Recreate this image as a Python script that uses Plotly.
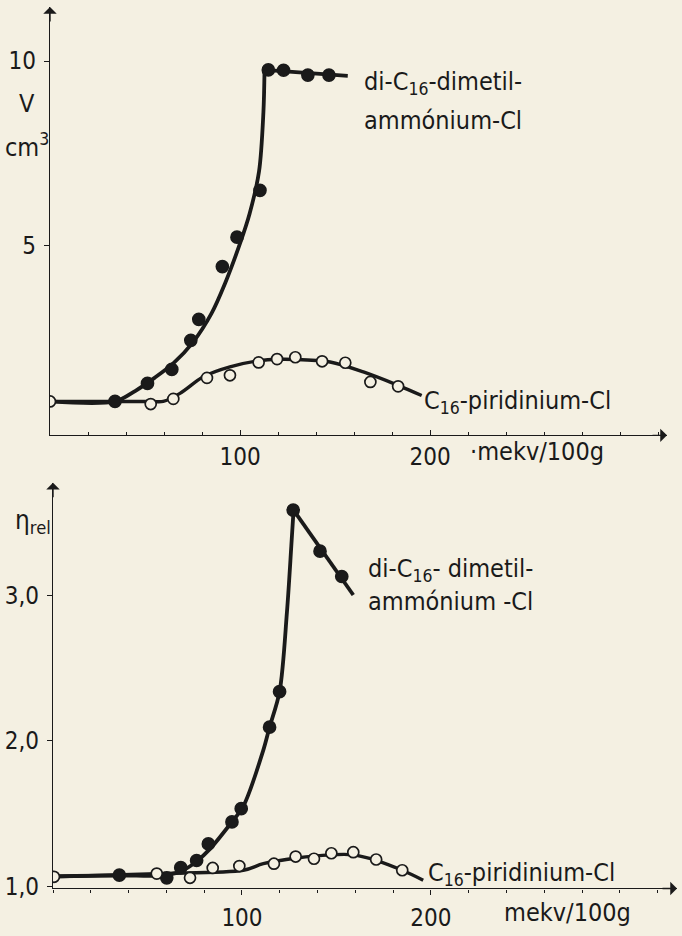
import plotly.graph_objects as go

# ---------------- data ----------------
# Top panel: V (cm3) vs mekv/100g
top_di_x = [34.2, 51.3, 64.1, 74.1, 78.3, 90.7, 98.4, 110.5, 114.9, 122.9, 135.7, 146.8]
top_di_y = [0.76, 1.25, 1.63, 2.42, 2.99, 4.42, 5.22, 6.49, 9.76, 9.75, 9.62, 9.62]
top_di_curve_x = [0, 34.2, 45, 55, 65, 75, 85, 92, 100, 105, 110, 112.3, 112.9]
top_di_curve_y = [0.76, 0.76, 1.05, 1.40, 1.80, 2.35, 3.15, 3.95, 5.05, 5.85, 7.0, 8.6, 9.76]
top_di_flat_x = [112.9, 156.7]
top_di_flat_y = [9.76, 9.60]

top_py_x = [0, 53.0, 64.9, 82.6, 94.7, 109.8, 119.5, 129.1, 143.2, 155.4, 168.6, 183.2]
top_py_y = [0.76, 0.69, 0.83, 1.40, 1.47, 1.82, 1.91, 1.96, 1.85, 1.81, 1.29, 1.17]
top_py_curve_x = [0, 52.6, 59.6, 68.4, 80.7, 94.7, 112.3, 129.8, 147.4, 164.9, 182.5, 195.6]
top_py_curve_y = [0.76, 0.76, 0.76, 0.98, 1.43, 1.70, 1.88, 1.90, 1.83, 1.56, 1.21, 0.92]

# Bottom panel: eta_rel vs mekv/100g
bot_di_x = [35.1, 60.2, 67.6, 76.0, 82.2, 94.7, 99.6, 114.6, 119.9, 127.1, 141.3, 152.8]
bot_di_y = [1.077, 1.059, 1.129, 1.178, 1.292, 1.443, 1.534, 2.094, 2.338, 3.585, 3.303, 3.129]
bot_di_curve_x = [0.5, 35.1, 60.2, 68.9, 76.0, 83.1, 93.7, 100.7, 111.3, 114.6, 119.9, 123.8, 126.1, 127.3]
bot_di_curve_y = [1.070, 1.075, 1.077, 1.111, 1.172, 1.258, 1.427, 1.551, 1.936, 2.094, 2.338, 2.885, 3.337, 3.585]
bot_di_fall_x = [127.3, 158.9]
bot_di_fall_y = [3.585, 3.002]

bot_py_x = [0.5, 54.9, 72.5, 84.5, 98.6, 116.9, 128.4, 138.1, 147.3, 158.9, 171.0, 184.8]
bot_py_y = [1.066, 1.088, 1.059, 1.127, 1.140, 1.156, 1.205, 1.190, 1.228, 1.235, 1.185, 1.111]
bot_py_curve_x = [0.5, 54.9, 100.7, 111.3, 128.9, 146.6, 158.9, 171.3, 184.8, 195.9]
bot_py_curve_y = [1.066, 1.088, 1.111, 1.156, 1.195, 1.217, 1.217, 1.178, 1.111, 1.043]

top_yticks = [5, 10]
top_yticktext = ["5", "10"]
bot_yticks = [1, 2, 3]
bot_yticktext = ["1,0", "2,0", "3,0"]
xticks = [100, 200]
xticktext = ["100", "200"]

# ---------------- style ----------------
BG = "#f4f0e2"
INK = "#1a1a1a"
FONT = "Liberation Sans Narrow, DejaVu Sans Condensed, Arial Narrow, sans-serif"
FS = 25
TFS = 24
LW = 3.8

fig = go.Figure()

def curve(x, y, xa, ya, shape="spline", w=LW):
    fig.add_trace(go.Scatter(x=x, y=y, mode="lines", xaxis=xa, yaxis=ya,
                             line=dict(color=INK, width=w, shape=shape, smoothing=0.9),
                             hoverinfo="skip", showlegend=False))

def pts(x, y, xa, ya, filled):
    fig.add_trace(go.Scatter(x=x, y=y, mode="markers", xaxis=xa, yaxis=ya,
                             marker=dict(size=12 if filled else 11,
                                         color=INK if filled else BG,
                                         line=dict(color=INK, width=1.7)),
                             hoverinfo="skip", showlegend=False))

# top panel
curve(top_py_curve_x, top_py_curve_y, "x", "y", w=3.4)
curve(top_di_curve_x, top_di_curve_y, "x", "y")
curve(top_di_flat_x, top_di_flat_y, "x", "y", shape="linear")
pts(top_di_x, top_di_y, "x", "y", True)
pts(top_py_x, top_py_y, "x", "y", False)

# bottom panel
curve(bot_py_curve_x, bot_py_curve_y, "x2", "y2", w=3.4)
curve(bot_di_curve_x, bot_di_curve_y, "x2", "y2")
curve(bot_di_fall_x, bot_di_fall_y, "x2", "y2", shape="linear")
pts(bot_di_x, bot_di_y, "x2", "y2", True)
pts(bot_py_x, bot_py_y, "x2", "y2", False)

axis_common = dict(showgrid=False, zeroline=False, showline=True, linecolor=INK,
                   linewidth=1.4, ticklen=5, tickwidth=1.2,
                   tickcolor=INK, tickfont=dict(family=FONT, size=TFS, color=INK),
                   fixedrange=True)

fig.update_layout(
    width=682, height=936,
    margin=dict(l=0, r=0, t=0, b=0),
    paper_bgcolor=BG, plot_bgcolor=BG,
    font=dict(family=FONT, size=FS, color=INK),
    xaxis=dict(domain=[50/682, 667/682], range=[0, 324.7], anchor="y",
               tickvals=xticks, ticktext=xticktext, ticks="inside",
               minor=dict(dtick=20, ticks="inside", ticklen=3, tickcolor=INK),
               **axis_common),
    yaxis=dict(domain=[1-441/936, 1-7/936], range=[-0.16, 11.47], anchor="x",
               tickvals=top_yticks, ticktext=top_yticktext, ticks="outside",
               ticklabelstandoff=3, **axis_common),
    xaxis2=dict(domain=[53/682, 677/682], range=[0, 330.2], anchor="y2",
                tickvals=xticks, ticktext=xticktext, ticks="outside",
                ticklabelstandoff=3,
                minor=dict(dtick=20, ticks="outside", ticklen=3, tickcolor=INK),
                **axis_common),
    yaxis2=dict(domain=[1-900/936, 1-489/936], range=[0.986, 3.773], anchor="x2",
                tickvals=bot_yticks, ticktext=bot_yticktext, ticks="outside",
                ticklabelstandoff=3, **axis_common),
)

ann = []
# axis arrowheads
for xr, yr in (("x", "y"), ("x2", "y2")):
    ann.append(dict(x=0, y=1, xref=f"{xr} domain", yref=f"{yr} domain", text="",
                    showarrow=True, ax=0, ay=16, arrowhead=1, arrowsize=1.6,
                    arrowwidth=1.4, arrowcolor=INK))
    ann.append(dict(x=1, y=0, xref=f"{xr} domain", yref=f"{yr} domain", text="",
                    showarrow=True, ax=-16, ay=0, arrowhead=1, arrowsize=1.6,
                    arrowwidth=1.4, arrowcolor=INK))

def label(text, x, y, xanchor="left", size=FS):
    ann.append(dict(text=text, x=x/682, y=1-y/936, xref="paper", yref="paper",
                    xanchor=xanchor, yanchor="middle", showarrow=False,
                    font=dict(family=FONT, size=size, color=INK)))

label("di-C<sub>16</sub>-dimetil-", 362, 84)
label("ammónium-Cl", 362, 122)
label("C<sub>16</sub>-piridinium-Cl", 422, 407)
label("·mekv/100g", 468, 457)
label("V", 27, 105, xanchor="center")
label("cm<sup>3</sup>", 27, 147, xanchor="center")

label("di-C<sub>16</sub>- dimetil-", 366, 577)
label("ammónium -Cl", 366, 609)
label("C<sub>16</sub>-piridinium-Cl", 426, 885)
label("mekv/100g", 502, 924)
label("η<sub>rel</sub>", 13, 528, size=26)

fig.update_layout(annotations=ann)
fig.write_html("out.html")
